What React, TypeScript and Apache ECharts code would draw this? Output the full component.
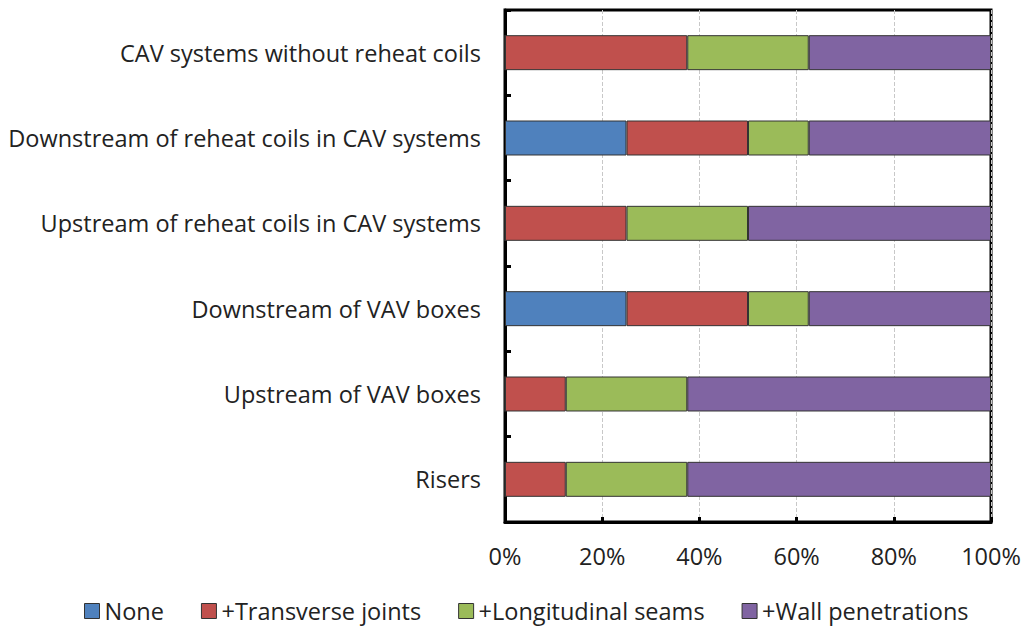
import React, { useEffect, useRef } from "react";
import * as echarts from "echarts";

const categories = [
  "Risers",
  "Upstream of VAV boxes",
  "Downstream of VAV boxes",
  "Upstream of reheat coils in CAV systems",
  "Downstream of reheat coils in CAV systems",
  "CAV systems without reheat coils",
];
const seriesNames = ["None", "+Transverse joints", "+Longitudinal seams", "+Wall penetrations"];
const noneVals = [0, 0, 25, 0, 25, 0];
const transverseVals = [12.5, 12.5, 25, 25, 25, 37.5];
const longitudinalVals = [25, 25, 12.5, 25, 12.5, 25];
const wallVals = [62.5, 62.5, 37.5, 50, 37.5, 37.5];
const xTicks = { min: 0, max: 100, interval: 20 };
const colors = ["#4F81BD", "#C0504D", "#9BBB59", "#8064A2"];

const FONT = "'Open Sans', sans-serif";
const FS = 23.5;

export default function App() {
  const ref = useRef<HTMLDivElement>(null);
  useEffect(() => {
    if (!ref.current) return;
    const chart = echarts.init(ref.current, null, { renderer: "svg" });
    const allVals = [noneVals, transverseVals, longitudinalVals, wallVals];
    chart.setOption({
      animation: false,
      backgroundColor: "#ffffff",
      color: colors,
      grid: {
        left: 505,
        right: 35,
        top: 10,
        bottom: 107,
        show: true,
        borderColor: "#000",
        borderWidth: 3,
        containLabel: false,
      },
      legend: {
        top: 597,
        left: 84,
        padding: 0,
        itemWidth: 15,
        itemHeight: 15,
        itemGap: 37,
        icon: "rect",
        textStyle: { fontFamily: FONT, fontSize: FS, color: "#222", lineHeight: 28 },
        itemStyle: { borderColor: "#333", borderWidth: 1 },
        data: seriesNames,
      },
      xAxis: {
        type: "value",
        min: xTicks.min,
        max: xTicks.max,
        interval: xTicks.interval,
        axisLine: { show: true, lineStyle: { color: "#000", width: 3 } },
        axisTick: { show: true, inside: true, length: 5, lineStyle: { color: "#000", width: 3 } },
        axisLabel: {
          formatter: "{value}%",
          fontFamily: FONT,
          fontSize: FS,
          color: "#222",
          margin: 22,
        },
        splitLine: { show: true, lineStyle: { color: "#c8c8c8", type: "dashed", width: 1 } },
      },
      yAxis: {
        type: "category",
        data: categories,
        axisLine: { show: true, lineStyle: { color: "#000", width: 3 } },
        axisTick: { show: true, inside: true, length: 6, interval: 0, lineStyle: { color: "#000", width: 3 } },
        axisLabel: {
          fontFamily: FONT,
          fontSize: FS,
          color: "#222",
          margin: 24,
          interval: 0,
        },
        splitLine: { show: false },
      },
      series: seriesNames.map((name, i) => ({
        name,
        type: "bar",
        stack: "total",
        barWidth: "41%",
        data: allVals[i],
        itemStyle: { color: colors[i], borderColor: "#333", borderWidth: 1 },
      })),
    });
    return () => chart.dispose();
  }, []);
  return (
    <div
      ref={ref}
      style={{ position: "absolute", left: 0, top: 0, width: 1026, height: 629 }}
    />
  );
}
